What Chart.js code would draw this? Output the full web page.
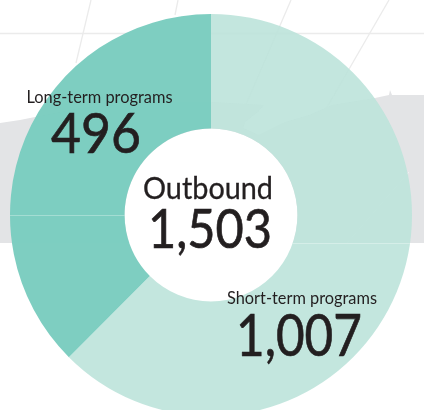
<!DOCTYPE html>
<html>
<head>
<meta charset="utf-8">
<style>
  html, body { margin: 0; padding: 0; background: #fff; overflow: hidden; width: 424px; height: 410px; }
  canvas { display: block; }
</style>
<script src="https://cdn.jsdelivr.net/npm/chart.js@4"></script>
</head>
<body>
<canvas id="donut" width="424" height="430"></canvas>
<script>
const categories = ['Short-term programs', 'Long-term programs'];
const programCounts = [1007, 496];
// the printed wedges are not to scale with the counts, so arcs use the angles measured off the picture
const sliceDegrees = [225, 135];
const sliceColors = ['rgba(189,227,218,0.9)', 'rgba(122,204,191,0.97)'];
const centerTitle = 'Outbound';
const centerTotal = '1,503';

const INK = '#231f20';
const FONT = 'Lato, "Noto Sans", sans-serif';

// background map: land and graticule behind the doughnut
const land = [[0,123],[20,120],[35,117],[80,108],[150,102],[212,102],[264,105],[258,112],[245,122],[243,128],[259,135],[285,122],[309,115],[332,105],[375,98],[389,95],[390,90],[392,95],[424,95],[424,243],[0,243]];
const graticule = [[[0,33.5],[424,33.5]],[[91,0],[76,63]],[[178,0],[175,15]],[[291,0],[235,130]],[[389,0],[289,173]]];
const landLines = [[[409,172],[347,243]]];

function strokeLines(c, lines, color, width) {
  c.strokeStyle = color;
  c.lineWidth = width;
  lines.forEach(l => {
    c.beginPath();
    c.moveTo(l[0][0], l[0][1]);
    c.lineTo(l[1][0], l[1][1]);
    c.stroke();
  });
}

const mapBackground = {
  id: 'mapBackground',
  beforeDatasetsDraw(chart) {
    const c = chart.ctx;
    const arc = chart.getDatasetMeta(0).data[0];
    c.save();
    c.fillStyle = '#e3e4e6';
    c.beginPath();
    land.forEach((p, i) => i ? c.lineTo(p[0], p[1]) : c.moveTo(p[0], p[1]));
    c.closePath();
    c.fill();
    strokeLines(c, graticule, '#ebebeb', 1.3);
    strokeLines(c, landLines, '#f0f0f1', 1);
    // hole stays opaque white over the map
    c.fillStyle = '#fff';
    c.beginPath();
    c.arc(arc.x, arc.y, arc.innerRadius, 0, Math.PI * 2);
    c.fill();
    c.restore();
  }
};

const labelText = {
  id: 'labelText',
  afterDatasetsDraw(chart) {
    const c = chart.ctx;
    const arc = chart.getDatasetMeta(0).data[0];
    c.save();
    // faint seams printed across the wedges
    c.strokeStyle = 'rgba(255,255,255,0.3)';
    c.lineWidth = 1;
    c.beginPath();
    c.moveTo(arc.x - arc.outerRadius, 215.5);
    c.lineTo(arc.x - arc.innerRadius, 215.5);
    c.moveTo(293, 243.5);
    c.lineTo(411, 243.5);
    c.stroke();

    c.fillStyle = INK;
    c.strokeStyle = INK;
    c.textAlign = 'center';
    c.textBaseline = 'alphabetic';
    // the reference face is a bit heavier than Lato regular, so thicken the big figures
    const put = (text, x, y, size, maxWidth, extra) => {
      c.font = size + 'px ' + FONT;
      c.fillText(text, x, y, maxWidth);
      if (extra) {
        c.lineWidth = extra;
        c.strokeText(text, x, y, maxWidth);
      }
    };
    put(centerTitle, 208, 199, 31, 130, 0.3);
    put(centerTotal, 210, 248, 55, 124, 0.7);
    put(categories[1], 99.5, 103, 16.4, 147);
    put(String(programCounts[1]), 96, 153, 57, 90, 0.7);
    put(categories[0], 302, 304, 16.4, 150);
    put(programCounts[0].toLocaleString('en-US'), 299, 356, 58, 126, 0.7);
    c.restore();
  }
};

new Chart(document.getElementById('donut').getContext('2d'), {
  type: 'doughnut',
  data: {
    labels: categories,
    datasets: [{
      data: sliceDegrees,
      backgroundColor: sliceColors,
      borderWidth: 0,
      hoverOffset: 0
    }]
  },
  options: {
    responsive: false,
    animation: false,
    cutout: '43%',
    rotation: 0,
    layout: { padding: { left: 10, right: 12, top: 14, bottom: 14 } },
    plugins: { legend: { display: false }, tooltip: { enabled: false } }
  },
  plugins: [mapBackground, labelText]
});
</script>
</body>
</html>
